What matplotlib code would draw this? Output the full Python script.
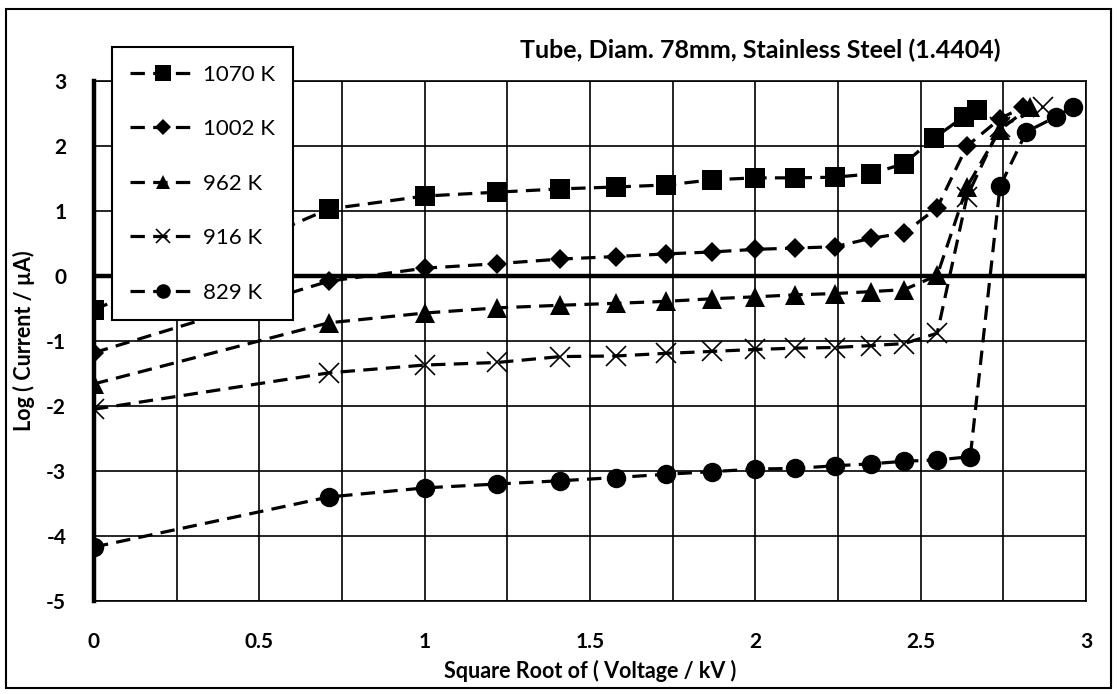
import matplotlib
matplotlib.use("Agg")
import matplotlib.pyplot as plt
from matplotlib.patches import Rectangle

plt.rcParams['font.family'] = ['Lato', 'DejaVu Sans']
plt.rcParams['axes.unicode_minus'] = False

# sqrt(voltage / kV) and log(current / uA)
x_1070 = [0, 0.71, 1.0, 1.22, 1.41, 1.58, 1.73, 1.87, 2.0, 2.12, 2.24, 2.35, 2.45, 2.54, 2.63, 2.67]
y_1070 = [-0.52, 1.03, 1.23, 1.29, 1.34, 1.37, 1.40, 1.48, 1.51, 1.51, 1.52, 1.57, 1.73, 2.12, 2.45, 2.56]

x_1002 = [0, 0.71, 1.0, 1.22, 1.41, 1.58, 1.73, 1.87, 2.0, 2.12, 2.24, 2.35, 2.45, 2.55, 2.64, 2.74, 2.81]
y_1002 = [-1.18, -0.08, 0.12, 0.19, 0.26, 0.30, 0.34, 0.37, 0.41, 0.43, 0.45, 0.58, 0.66, 1.05, 2.0, 2.42, 2.6]

x_962 = [0, 0.71, 1.0, 1.22, 1.41, 1.58, 1.73, 1.87, 2.0, 2.12, 2.24, 2.35, 2.45, 2.55, 2.64, 2.74, 2.83]
y_962 = [-1.66, -0.72, -0.57, -0.49, -0.45, -0.42, -0.39, -0.35, -0.32, -0.29, -0.27, -0.24, -0.21, 0.01, 1.37, 2.25, 2.6]

x_916 = [0, 0.71, 1.0, 1.22, 1.41, 1.58, 1.73, 1.87, 2.0, 2.12, 2.24, 2.35, 2.45, 2.55, 2.64, 2.74, 2.87]
y_916 = [-2.05, -1.49, -1.37, -1.33, -1.24, -1.23, -1.19, -1.16, -1.13, -1.11, -1.10, -1.07, -1.04, -0.88, 1.22, 2.3, 2.6]

x_829 = [0, 0.71, 1.0, 1.22, 1.41, 1.58, 1.73, 1.87, 2.0, 2.12, 2.24, 2.35, 2.45, 2.55, 2.65, 2.74, 2.82, 2.91, 2.96]
y_829 = [-4.17, -3.40, -3.26, -3.20, -3.15, -3.10, -3.05, -3.01, -2.97, -2.96, -2.92, -2.89, -2.85, -2.83, -2.78, 1.38, 2.22, 2.45, 2.6]

labels = ["1070 K", "1002 K", "962 K", "916 K", "829 K"]
xgrid = [0, 0.25, 0.5, 0.75, 1, 1.25, 1.5, 1.75, 2, 2.25, 2.5, 2.75, 3]
xticklabels = ['0', '', '0.5', '', '1', '', '1.5', '', '2', '', '2.5', '', '3']
yticks = [-5, -4, -3, -2, -1, 0, 1, 2, 3]

fig = plt.figure(figsize=(11.17, 6.94), dpi=100)
ax = fig.add_axes([94/1117, 93/694, 992/1117, 520/694])

dash = (4.5, 2.6)
ax.plot(x_1070, y_1070, ls='--', dashes=dash, color='k', lw=2.3, marker='s', ms=15, mew=0, label=labels[0], zorder=5)
ax.plot(x_1002, y_1002, ls='--', dashes=dash, color='k', lw=2.3, marker='D', ms=10.5, mew=0, label=labels[1], zorder=5)
ax.plot(x_962, y_962, ls='--', dashes=dash, color='k', lw=2.3, marker='^', ms=14, mew=0, label=labels[2], zorder=5)
ax.plot(x_916, y_916, ls='--', dashes=dash, color='k', lw=2.3, marker='x', ms=14, mew=1.2, label=labels[3], zorder=5)
ax.plot(x_829, y_829, ls='--', dashes=dash, color='k', lw=2.3, marker='o', ms=14, mew=0, label=labels[4], zorder=5)

ax.set_xlim(0, 3)
ax.set_ylim(-5, 3)
ax.set_xticks(xgrid)
ax.set_xticklabels(xticklabels)
ax.set_yticks(yticks)
ax.grid(True, color='k', lw=1.2, zorder=1)
ax.set_axisbelow(True)
ax.tick_params(length=0, labelsize=15, pad=20)
ax.tick_params(axis='x', pad=22)
for lab in ax.get_xticklabels() + ax.get_yticklabels():
    lab.set_fontweight('bold')
for s in ax.spines.values():
    s.set_linewidth(1.2)
    s.set_color('k')
ax.spines['left'].set_linewidth(3.2)
ax.axhline(0, color='k', lw=3.2, zorder=2)

ax.set_xlabel("Square Root of ( Voltage / kV )", fontsize=15.5, fontweight='bold', labelpad=6)
ax.set_ylabel("Log ( Current / µA)", fontsize=15.5, fontweight='bold', labelpad=8)

fig.text(760/1117, 1 - 50/694, "Tube, Diam. 78mm, Stainless Steel (1.4404)", ha='center', va='center',
         fontsize=18, fontweight='bold')

leg = ax.legend(loc='upper left', bbox_to_anchor=(112/1117, 1 - 47/694), bbox_transform=fig.transFigure,
                fontsize=16, numpoints=1, markerscale=0.75, handlelength=3.0, labelspacing=1.55, borderpad=0.8,
                handletextpad=0.3, fancybox=False, framealpha=1, edgecolor='k', borderaxespad=0)
leg.get_frame().set_linewidth(1.5)
leg.set_zorder(10)

fig.patches.append(Rectangle((6/1117, 1 - 688/694), 1105/1117, 679/694, transform=fig.transFigure,
                             fill=False, edgecolor='k', lw=1.5))

fig.savefig("out.png", dpi=100)
